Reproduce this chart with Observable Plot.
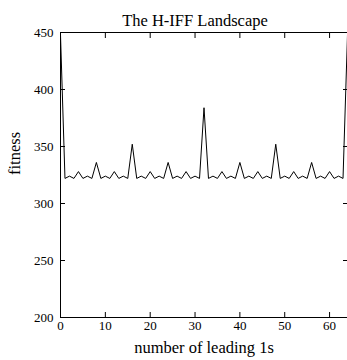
<!DOCTYPE html>
<html>
<head>
<meta charset="utf-8">
<script src="https://cdn.jsdelivr.net/npm/d3@7"></script>
<script src="https://cdn.jsdelivr.net/npm/@observablehq/plot@0.6"></script>
<style>
html,body{margin:0;padding:0;background:#fff;}
</style>
</head>
<body>
<div id="chart"></div>
<script>
const title = "The H-IFF Landscape";
const xLabel = "number of leading 1s";
const yLabel = "fitness";
const leadingOnes = [0,1,2,3,4,5,6,7,8,9,10,11,12,13,14,15,16,17,18,19,20,21,22,23,24,25,26,27,28,29,30,31,32,33,34,35,36,37,38,39,40,41,42,43,44,45,46,47,48,49,50,51,52,53,54,55,56,57,58,59,60,61,62,63,64];
const fitness = [448,322,324,322,328,322,324,322,336,322,324,322,328,322,324,322,352,322,324,322,328,322,324,322,336,322,324,322,328,322,324,322,384,322,324,322,328,322,324,322,336,322,324,322,328,322,324,322,352,322,324,322,328,322,324,322,336,322,324,322,328,322,324,322,448];
const xTicks = [0,10,20,30,40,50,60];
const yTicks = [200,250,300,350,400,450];

const data = leadingOnes.map((x, i) => ({x, y: fitness[i]}));

const chart = Plot.plot({
  width: 347,
  height: 360,
  marginLeft: 60,
  marginRight: 0,
  marginTop: 32,
  marginBottom: 43,
  style: {fontFamily: "'Liberation Serif', serif", fontSize: "13px", color: "#000", background: "#fff"},
  x: {domain: [0, 64]},
  y: {domain: [200, 450]},
  marks: [
    Plot.frame({stroke: "#000"}),
    Plot.axisX(xTicks, {anchor: "bottom", tickSize: -5, tickPadding: 8.5, label: null, fontSize: 13}),
    Plot.axisX(xTicks, {anchor: "top", tickSize: -5, tickFormat: () => "", label: null}),
    Plot.axisY(yTicks, {anchor: "left", tickSize: -5, tickPadding: 12, label: null, fontSize: 13}),
    Plot.axisY(yTicks, {anchor: "right", tickSize: -5, tickFormat: () => "", label: null}),
    Plot.line(data, {x: "x", y: "y", stroke: "#000", strokeWidth: 1}),
    Plot.text([title], {frameAnchor: "top", dy: -18, dx: -9, fontSize: 16.5}),
    Plot.text([xLabel], {frameAnchor: "bottom", dy: 35, fontSize: 16.5}),
    Plot.text([yLabel], {frameAnchor: "left", dx: -46, rotate: -90, fontSize: 16.5})
  ]
});
document.getElementById("chart").appendChild(chart);
</script>
</body>
</html>
